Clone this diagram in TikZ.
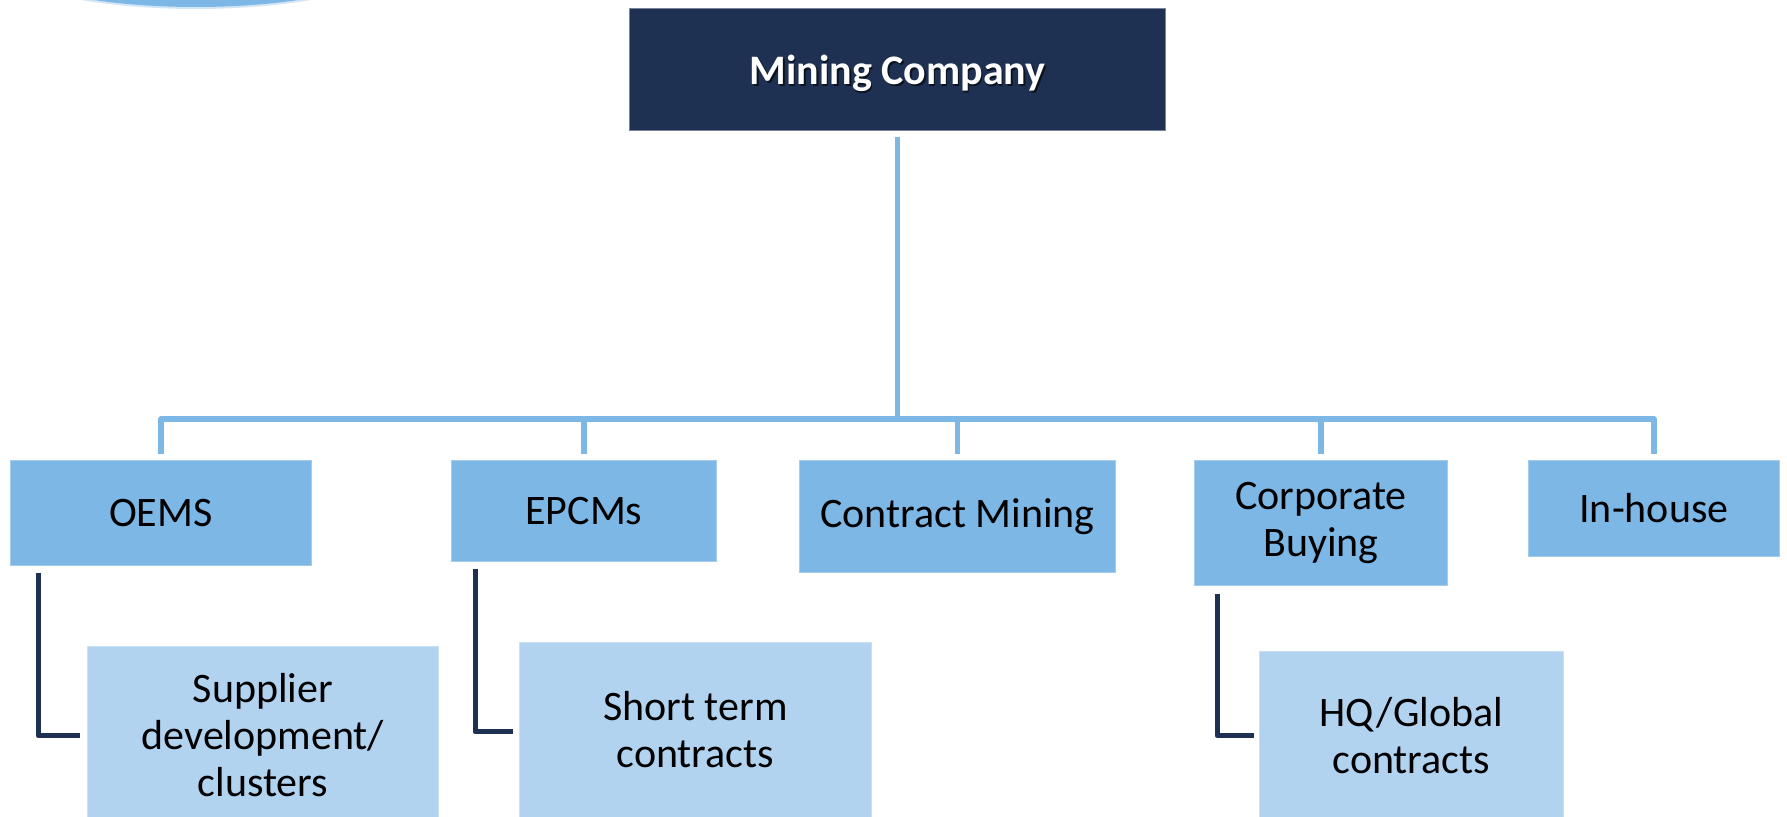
\documentclass[tikz,border=0pt]{standalone}
\usepackage{fontspec}
\setmainfont{Carlito}
\definecolor{navy}{HTML}{1F3152}
\definecolor{midblue}{HTML}{7DB7E6}
\definecolor{paleblue}{HTML}{B2D3F0}
\tikzset{
  topbox/.style={fill=navy, draw=navy!60!white, line width=1pt, inner sep=0pt, anchor=north west, align=center},
  catbox/.style={fill=midblue, draw=midblue!70!white, line width=0.8pt, inner sep=0pt, anchor=north west, align=center,
     font=\fontsize{42}{47}\selectfont},
  subbox/.style={fill=paleblue, draw=paleblue!70!white, line width=0.8pt, inner sep=0pt, anchor=north west, align=center,
     font=\fontsize{42}{47}\selectfont},
  blueline/.style={draw=midblue, line width=5.5pt, line join=round},
  darkline/.style={draw=navy, line width=5pt, line join=round}
}
\begin{document}
\begin{tikzpicture}[x=1pt,y=-1pt]
\useasboundingbox (0,0) rectangle (1787,816);
\clip (0,0) rectangle (1787,816);
\fill[white] (0,0) rectangle (1787,816);
% partial ellipse at top-left
\fill[midblue!35!white] (196,-60) ellipse [x radius=232pt, y radius=69pt];
\fill[midblue] (196,-60) ellipse [x radius=230pt, y radius=67pt];
% top node
\node[topbox, minimum width=536pt, minimum height=122pt] (mc) at (629,8) {};
\node[text=black, opacity=0.6, font=\fontsize{42}{46}\selectfont\bfseries] (mcs) at ([xshift=1.5pt,yshift=-5.5pt]mc.center) {Mining Company};
\node[text=white, font=\fontsize{42}{46}\selectfont\bfseries] (mct) at ([yshift=-4pt]mc.center) {Mining Company};
% categories
\node[catbox, minimum width=301pt, minimum height=105pt] (oems) at (10,460) {OEMS};
\node[catbox, minimum width=265pt, minimum height=101pt] (epcm) at (451,460) {EPCMs};
\node[catbox, minimum width=316pt, minimum height=112pt] (cm) at (799,460) {Contract Mining};
\node[catbox, minimum width=253pt, minimum height=125pt] (corp) at (1194,460) {Corporate\\Buying};
\node[catbox, minimum width=251pt, minimum height=96pt] (inh) at (1528,460) {In-house};
% sub boxes
\node[subbox, minimum width=351pt, minimum height=178pt] (sup) at (87,646) {Supplier\\development/\\clusters};
\node[subbox, minimum width=352pt, minimum height=175pt] (stc) at (519,642) {Short term\\contracts};
\node[subbox, minimum width=304pt, minimum height=168pt] (hq) at (1259,651) {HQ/Global\\contracts};
% blue connectors
\coordinate (bar) at (0,419);
\draw[blueline] ([yshift=-6pt]mc.south) -- (mc.south |- bar);
\draw[blueline] ([yshift=6pt]oems.north) |- (bar -| inh.north) -- ([yshift=6pt]inh.north);
\draw[blueline] ([yshift=6pt]epcm.north) -- (epcm.north |- bar);
\draw[blueline] ([yshift=6pt]cm.north) -- (cm.north |- bar);
\draw[blueline] ([yshift=6pt]corp.north) -- (corp.north |- bar);
% dark connectors
\draw[darkline] ([xshift=28pt,yshift=-7pt]oems.south west) |- ([xshift=-7pt]sup.west);
\draw[darkline] ([xshift=24pt,yshift=-7pt]epcm.south west) |- ([xshift=-6pt,yshift=-2pt]stc.west);
\draw[darkline] ([xshift=23pt,yshift=-8pt]corp.south west) |- ([xshift=-5pt]hq.west);
\end{tikzpicture}
\end{document}
